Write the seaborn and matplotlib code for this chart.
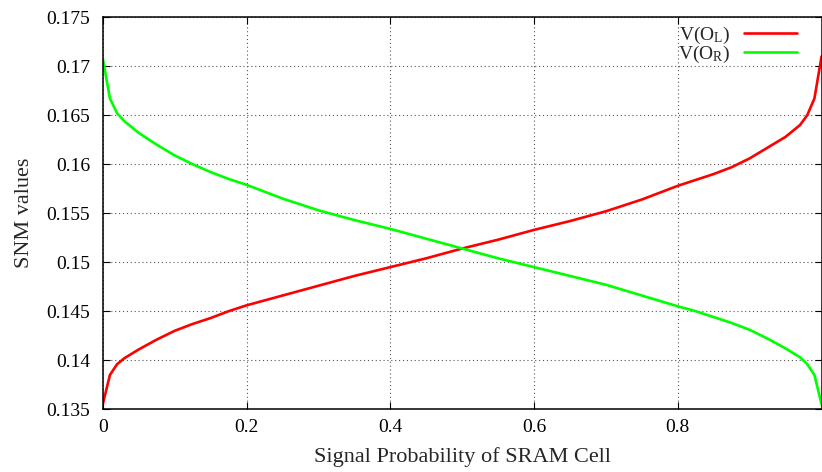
import matplotlib
matplotlib.use("Agg")
import matplotlib.pyplot as plt
import seaborn as sns
import pandas as pd

# Signal probability sample points and static noise margin per output node
signal_prob = [0.0, 0.01, 0.02, 0.03, 0.05, 0.075, 0.1, 0.125, 0.15, 0.175,
               0.2, 0.25, 0.3, 0.35, 0.4, 0.45, 0.5, 0.55, 0.6, 0.65, 0.7,
               0.75, 0.8, 0.825, 0.85, 0.875, 0.9, 0.925, 0.95, 0.97, 0.98,
               0.99, 1.0]
snm_left = [0.1355, 0.1385, 0.1396, 0.1402, 0.1411, 0.1421, 0.1430, 0.1437,
            0.1443, 0.1450, 0.1456, 0.1466, 0.1476, 0.1486, 0.1495, 0.1504,
            0.1514, 0.1523, 0.1533, 0.1542, 0.1552, 0.1564, 0.1578, 0.1584,
            0.1590, 0.1597, 0.1606, 0.1617, 0.1628, 0.1640, 0.1650, 0.1667,
            0.1710]
snm_right = [0.1708, 0.1667, 0.1652, 0.1644, 0.1632, 0.1620, 0.1609, 0.1600,
             0.1592, 0.1585, 0.1579, 0.1565, 0.1553, 0.1543, 0.1534, 0.1524,
             0.1514, 0.1504, 0.1495, 0.1486, 0.1477, 0.1466, 0.1455, 0.1450,
             0.1444, 0.1438, 0.1431, 0.1422, 0.1412, 0.1403, 0.1396, 0.1385,
             0.1355]
series_names = ["V(O$_\\mathregular{L}$)", "V(O$_\\mathregular{R}$)"]
series_colors = ["#ff0000", "#00ff00"]
x_ticks = [0, 0.2, 0.4, 0.6, 0.8]
y_ticks = [0.135, 0.14, 0.145, 0.15, 0.155, 0.16, 0.165, 0.17, 0.175]

df = pd.concat([
    pd.DataFrame({"p": signal_prob, "snm": snm_left, "node": series_names[0]}),
    pd.DataFrame({"p": signal_prob, "snm": snm_right, "node": series_names[1]}),
])

sns.set_style("ticks")
plt.rcParams["font.family"] = ["Liberation Serif", "DejaVu Serif"]
plt.rcParams["mathtext.fontset"] = "custom"
plt.rcParams["mathtext.rm"] = "Liberation Serif"
plt.rcParams["mathtext.it"] = "Liberation Serif"

fig = plt.figure(figsize=(8.22, 4.72), dpi=100)
ax = fig.add_axes([0.125, 0.133, 0.8745, 0.8305])

sns.lineplot(data=df, x="p", y="snm", hue="node", palette=series_colors,
             linewidth=1.9, ax=ax, legend=True)

ax.set_xlim(0, 1)
ax.set_ylim(0.135, 0.175)
ax.set_xticks(x_ticks)
ax.set_xticklabels([f"{t:g}" for t in x_ticks])
ax.set_yticks(y_ticks)
ax.set_yticklabels([f"{t:g}" for t in y_ticks])
ax.tick_params(direction="in", length=5, width=0.8, labelsize=14,
               top=True, right=True, colors="black")
ax.tick_params(axis="y", pad=9)
ax.tick_params(axis="x", pad=7)
ax.grid(True, linestyle=(0, (1, 2.5)), color="#555555", linewidth=0.8)
for s in ax.spines.values():
    s.set_color("black")
    s.set_linewidth(1.1)

ax.set_xlabel("Signal Probability of SRAM Cell", fontsize=16, labelpad=8)
ax.set_ylabel("SNM values", fontsize=16, labelpad=9)

handles, labels = ax.get_legend_handles_labels()
ax.legend(handles, labels, loc="upper right", bbox_to_anchor=(0.987, 1.02),
          frameon=False, markerfirst=False, fontsize=14, handlelength=2.7,
          handletextpad=0.7, labelspacing=-0.1, borderpad=0.3)

fig.savefig("out.png", dpi=100)
